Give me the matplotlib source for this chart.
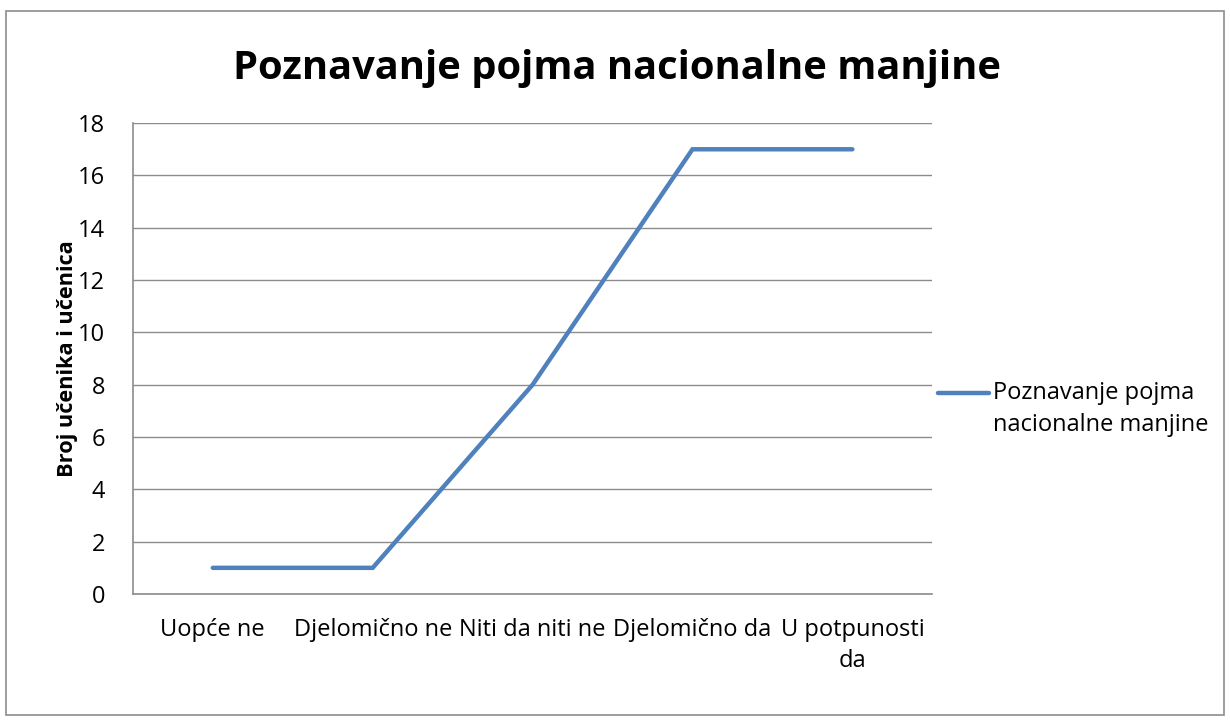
import matplotlib
matplotlib.use("Agg")
import matplotlib.pyplot as plt
from matplotlib.patches import Rectangle

plt.rcParams['font.family'] = ['Open Sans', 'DejaVu Sans']

categories = ["Uopće ne", "Djelomično ne", "Niti da niti ne", "Djelomično da", "U potpunosti\nda"]
values = [1, 1, 8, 17, 17]
series_name = "Poznavanje pojma\nnacionalne manjine"

fig = plt.figure(figsize=(12.3, 7.2), dpi=100)
ax = fig.add_axes([0.108, 0.175, 0.65, 0.654])

ax.plot(range(len(values)), values, color="#4F81BD", lw=3.2, solid_capstyle="round",
        solid_joinstyle="miter")
ax.set_xlim(-0.5, len(values) - 0.5)
ax.set_ylim(0, 18)
ax.set_yticks(range(0, 19, 2))
ax.set_xticks(range(len(categories)))
ax.set_xticklabels(categories, fontsize=17, linespacing=1.41)
ax.tick_params(axis="both", length=0, labelsize=17, colors="black")
ax.tick_params(axis="x", pad=17)
ax.tick_params(axis="y", pad=20)
ax.grid(axis="y", color="#8c8c8c", lw=1)
ax.set_axisbelow(True)
for s in ["top", "right"]:
    ax.spines[s].set_visible(False)
for s in ["left", "bottom"]:
    ax.spines[s].set_color("#8c8c8c")
    ax.spines[s].set_linewidth(1.2)

ax.set_ylabel("Broj učenika i učenica", fontsize=15.7, fontweight="bold", labelpad=0)
fig.text(0.502, 0.905, "Poznavanje pojma nacionalne manjine", fontsize=28.7,
         fontweight="bold", ha="center", va="center")

# legend
fig.lines.append(plt.Line2D([0.763, 0.804], [0.454, 0.454], transform=fig.transFigure,
                            color="#4F81BD", lw=3.2, solid_capstyle="round"))
fig.text(0.807, 0.432, series_name, fontsize=17, va="center", ha="left", linespacing=1.46)

fig.patches.append(Rectangle((0.005, 0.007), 0.99, 0.978, transform=fig.transFigure,
                             fill=False, edgecolor="#8c8c8c", lw=1.2))

fig.savefig("out.png", dpi=100)
